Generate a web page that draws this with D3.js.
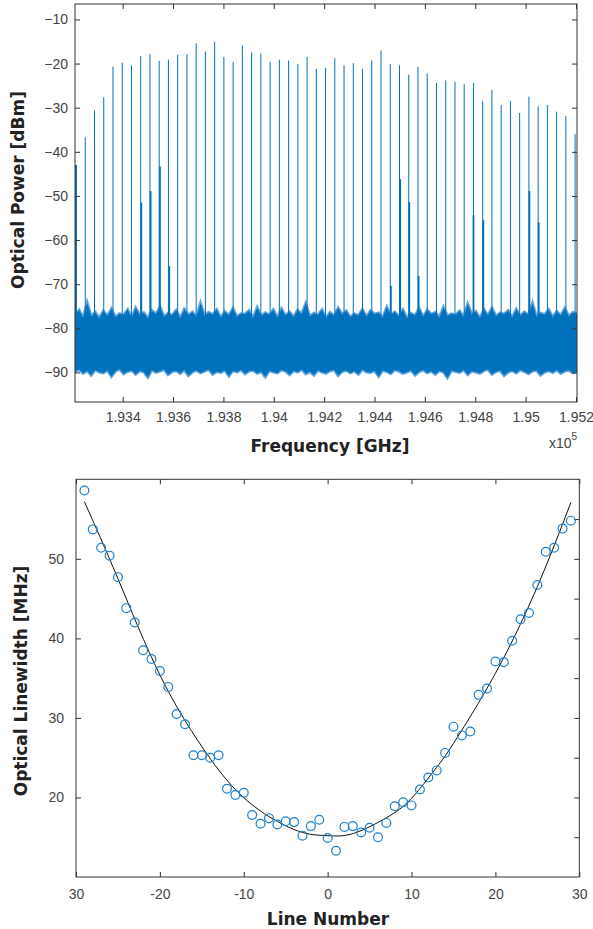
<!DOCTYPE html>
<html><head><meta charset="utf-8">
<script src="https://cdn.jsdelivr.net/npm/d3@7"></script>
<style>body{margin:0;background:#fff} svg{display:block}</style>
</head><body>
<svg id="c" width="593" height="929"></svg>
<script>
// ---------- Top chart data (frequency in GHz, power in dBm) ----------
const combFreq = [193214.7,193251.4,193288.1,193324.8,193361.5,193398.2,193434.9,193471.6,193508.3,193545.0,
  193581.7,193618.4,193655.1,193691.8,193728.5,193765.2,193801.9,193838.6,193875.3,193912.0,
  193948.7,193985.4,194022.1,194058.8,194095.5,194132.2,194168.9,194205.6,194242.3,194279.0,
  194315.7,194352.4,194389.1,194425.8,194462.5,194499.2,194535.9,194572.6,194609.3,194646.0,
  194682.7,194719.4,194756.1,194792.8,194829.5,194866.2,194902.9,194939.6,194976.3,195013.0,
  195049.7,195086.4,195123.1,195159.8,195196.5];
const combPower = [-43.0,-36.7,-30.6,-27.6,-20.7,-19.8,-20.4,-18.3,-17.8,-19.4,
  -19.1,-18.0,-17.8,-15.4,-17.3,-15.1,-18.5,-19.6,-15.9,-17.5,
  -17.7,-19.6,-19.1,-19.3,-20.1,-18.5,-21.2,-21.0,-18.8,-20.4,
  -19.9,-21.2,-19.3,-17.0,-20.1,-20.4,-22.5,-20.7,-22.2,-24.4,
  -23.8,-24.1,-24.7,-24.4,-28.5,-26.0,-29.4,-28.5,-31.2,-27.5,
  -29.7,-29.4,-30.9,-31.9,-36.0];
const sideFreq = [193214.7,193474,193511,193548,193585,194465,194502,194538,194575,194793,194832,195015,195052];
const sidePower = [-43.0,-51.5,-48.9,-43.3,-65.9,-70.4,-46.2,-51.4,-68.1,-54.4,-55.5,-48.9,-56.0];
const noiseTop = [-77.0,-75.9,-77.6,-74.2,-77.3,-76.4,-77.7,-76.1,-77.2,-75.6,
  -77.5,-76.7,-77.0,-75.8,-77.6,-75.4,-77.1,-76.5,-77.7,-76.0,
  -76.8,-75.2,-77.4,-76.6,-77.1,-75.9,-77.7,-75.7,-77.0,-76.3,
  -77.5,-74.3,-77.2,-76.4,-76.9,-75.8,-77.6,-76.2,-77.1,-75.5,
  -77.4,-76.7,-76.8,-76.0,-77.7,-75.3,-77.2,-76.5,-77.0,-75.8,
  -77.6,-75.6,-77.1,-76.3,-77.5,-75.9,-76.8,-74.4,-77.3,-76.6,
  -77.0,-75.8,-77.7,-76.4,-77.2,-75.4,-76.9,-76.1,-77.5,-76.7,
  -77.1,-75.7,-77.4,-76.0,-76.8,-76.5,-77.6,-75.2,-77.0,-76.3,
  -77.3,-75.8,-77.7,-76.6,-77.1,-75.5,-77.4,-75.9,-76.8,-76.4,
  -77.6,-75.3,-77.2,-76.7,-77.0,-76.1,-77.5,-74.5,-76.9,-76.2,
  -77.7,-75.8,-77.1,-75.4,-77.3,-76.5,-76.8,-76.0,-77.6,-75.7,
  -77.2,-76.3,-77.0,-74.3,-77.4,-76.6,-76.9,-75.8,-77.5,-76.2,
  -77.1,-75.5,-77.3,-76.4,-76.8];
const noiseBottom = [-89.8,-89.3,-90.2,-89.6,-90.6,-89.4,-89.9,-90.1,-89.5,-90.9,
  -89.7,-89.2,-90.3,-89.8,-89.5,-90.4,-89.6,-89.9,-91.1,-89.4,
  -90.0,-89.7,-89.3,-90.5,-89.8,-89.6,-90.2,-89.4,-90.7,-89.9,
  -89.5,-90.1,-89.7,-89.3,-90.4,-89.8,-90.0,-89.5,-90.8,-89.6,
  -89.9,-89.4,-90.3,-89.7,-89.5,-90.2,-89.8,-91.0,-89.6,-89.9,
  -90.1,-89.4,-89.7,-90.5,-89.6,-89.9,-89.3,-90.3,-89.8,-90.6,
  -89.5,-89.9,-90.2,-89.6,-89.4,-90.7,-89.8,-89.5,-90.1,-89.7,
  -90.4,-89.3,-89.9,-90.0,-89.6,-90.9,-89.5,-89.8,-90.3,-89.4,
  -89.7,-90.2,-89.9,-89.5,-90.6,-89.8,-89.4,-90.1,-89.7,-90.4,
  -89.6,-89.9,-91.2,-89.5,-89.8,-90.0,-89.4,-90.5,-89.7,-89.9,
  -90.2,-89.6,-89.3,-90.4,-89.8,-89.5,-90.7,-89.9,-89.6,-90.1,
  -89.4,-89.8,-90.3,-89.7,-89.5,-90.6,-89.9,-89.6,-90.0,-89.4,
  -90.2,-89.7,-89.5,-90.1,-89.8];
const freqDomain = [193210.7, 195204];
const powerDomain = [-96.7, -6.5];
const freqTicks = [193400,193600,193800,194000,194200,194400,194600,194800,195000,195200];
const freqTickLabels = ["1.934","1.936","1.938","1.94","1.942","1.944","1.946","1.948","1.95","1.952"];
const powerTicks = [-90,-80,-70,-60,-50,-40,-30,-20,-10];

// ---------- Bottom chart data ----------
const lineNumbers = [-29,-28,-27,-26,-25,-24,-23,-22,-21,-20,-19,-18,-17,-16,-15,-14,-13,-12,-11,-10,
  -9,-8,-7,-6,-5,-4,-3,-2,-1,0,1,2,3,4,5,6,7,8,9,10,11,12,13,14,15,16,17,18,19,20,21,22,23,24,25,26,27,28,29];
const linewidths = [58.6,53.7,51.4,50.4,47.7,43.8,42.0,38.5,37.4,35.9,33.9,30.5,29.2,25.3,25.3,25.0,25.3,21.1,20.3,20.6,
  17.8,16.7,17.4,16.6,17.0,16.9,15.2,16.4,17.2,14.9,13.3,16.3,16.4,15.6,16.2,15.0,16.8,18.9,19.4,19.0,
  21.0,22.5,23.4,25.6,28.9,27.8,28.3,32.9,33.7,37.1,37.0,39.7,42.4,43.2,46.7,50.9,51.4,53.8,54.8];
const fitN = [-29,-25,-20,-15,-11,-7,-3,0,3,7,10,13,15,20,25,29];
const fitV = [57.2,47.5,35.4,26.4,21.0,17.6,15.6,15.2,15.45,17.45,19.9,23.8,26.8,35.6,46.5,57.1];
const lnTicks = [-30,-20,-10,0,10,20,30];
const lnTickLabels = ["30","-20","-10","0","10","20","30"];
const lwTicks = [20,30,40,50];
const lwRightTicks = [15,20,25,30,35,40,45,50,55];

// ---------- Drawing ----------
const svg = d3.select("#c");
const BLUE = "#0072BD";
const TICKFONT = "'Liberation Sans', Arial, sans-serif";
const LABELFONT = "'DejaVu Sans', Verdana, sans-serif";

function styleAxis(g, hideText) {
  g.select(".domain").remove();
  g.selectAll(".tick line").attr("stroke", "#333").attr("stroke-width", 1);
  g.selectAll(".tick text").attr("fill", "#444").style("font-family", TICKFONT).style("font-size", "14px");
  if (hideText) g.selectAll(".tick text").remove();
}

// ===== Top chart =====
const T = {l: 75, r: 577, t: 4, b: 402};
const x1 = d3.scaleLinear().domain(freqDomain).range([T.l, T.r]);
const y1 = d3.scaleLinear().domain(powerDomain).range([T.b, T.t]);
const idx = d3.scaleLinear().domain([0, noiseTop.length - 1]).range(freqDomain);

const gTop = svg.append("g");
gTop.append("defs").append("clipPath").attr("id", "clipTop")
  .append("rect").attr("x", T.l).attr("y", T.t).attr("width", T.r - T.l).attr("height", T.b - T.t);
const plot1 = gTop.append("g").attr("clip-path", "url(#clipTop)");

const noiseArea = d3.area()
  .x((d, i) => x1(idx(i)))
  .y0((d, i) => y1(noiseBottom[i]))
  .y1(d => y1(d))
  .curve(d3.curveLinear);
plot1.append("path").datum(noiseTop).attr("d", noiseArea)
  .attr("fill", "#5fa4da").attr("stroke", "#5fa4da").attr("stroke-width", 3).attr("stroke-linejoin", "miter");
plot1.append("path").datum(noiseTop).attr("d", noiseArea).attr("fill", BLUE);

plot1.selectAll("line.comb").data(combFreq).join("line").attr("class", "comb")
  .attr("x1", d => x1(d)).attr("x2", d => x1(d))
  .attr("y1", y1(-83)).attr("y2", (d, i) => y1(combPower[i]))
  .attr("stroke", BLUE).attr("stroke-width", 1);
plot1.selectAll("line.side").data(sideFreq).join("line").attr("class", "side")
  .attr("x1", d => x1(d)).attr("x2", d => x1(d))
  .attr("y1", y1(-83)).attr("y2", (d, i) => y1(sidePower[i]))
  .attr("stroke", BLUE).attr("stroke-width", 1.8);

gTop.append("g").attr("transform", `translate(0,${T.b})`)
  .call(d3.axisBottom(x1).tickValues(freqTicks).tickFormat((d, i) => freqTickLabels[i]).tickSizeInner(-5).tickSizeOuter(0).tickPadding(10))
  .call(g => styleAxis(g));
gTop.append("g").attr("transform", `translate(0,${T.t})`)
  .call(d3.axisTop(x1).tickValues(freqTicks).tickSizeInner(-5).tickSizeOuter(0))
  .call(g => styleAxis(g, true));
gTop.append("g").attr("transform", `translate(${T.l},0)`)
  .call(d3.axisLeft(y1).tickValues(powerTicks).tickSizeInner(-5).tickSizeOuter(0).tickPadding(7))
  .call(g => styleAxis(g));
gTop.append("g").attr("transform", `translate(${T.r},0)`)
  .call(d3.axisRight(y1).tickValues(powerTicks).tickSizeInner(-5).tickSizeOuter(0))
  .call(g => styleAxis(g, true));
gTop.append("rect").attr("x", T.l).attr("y", T.t).attr("width", T.r - T.l).attr("height", T.b - T.t)
  .attr("fill", "none").attr("stroke", "#333").attr("stroke-width", 1);

gTop.append("text").attr("x", 330).attr("y", 452).attr("text-anchor", "middle")
  .style("font-family", LABELFONT).style("font-weight", "bold").style("font-size", "17px").attr("fill", "#222")
  .text("Frequency [GHz]");
gTop.append("text").attr("transform", "translate(18,190) rotate(-90)").attr("dy", "0.35em").attr("text-anchor", "middle")
  .style("font-family", LABELFONT).style("font-weight", "bold").style("font-size", "17px").attr("fill", "#222")
  .text("Optical Power [dBm]");
const mult = gTop.append("text").attr("x", 549).attr("y", 448).attr("fill", "#444")
  .style("font-family", TICKFONT).style("font-size", "14px");
mult.append("tspan").text("x10");
mult.append("tspan").attr("dy", -8).style("font-size", "10px").text("5");

// ===== Bottom chart =====
const B = {l: 76, r: 579.3, t: 479.3, b: 877};
const x2 = d3.scaleLinear().domain([-30, 30]).range([B.l, B.r]);
const y2 = d3.scaleLinear().domain([10, 60]).range([B.b, B.t]);
const gBot = svg.append("g");

gBot.append("g").attr("transform", `translate(0,${B.b})`)
  .call(d3.axisBottom(x2).tickValues(lnTicks).tickFormat((d, i) => lnTickLabels[i]).tickSizeInner(-5).tickSizeOuter(0).tickPadding(12))
  .call(g => styleAxis(g));
gBot.append("g").attr("transform", `translate(0,${B.t})`)
  .call(d3.axisTop(x2).tickValues(lnTicks).tickSizeInner(-5).tickSizeOuter(0))
  .call(g => styleAxis(g, true));
gBot.append("g").attr("transform", `translate(${B.l},0)`)
  .call(d3.axisLeft(y2).tickValues(lwTicks).tickSizeInner(-5).tickSizeOuter(0).tickPadding(12))
  .call(g => styleAxis(g));
gBot.append("g").attr("transform", `translate(${B.r},0)`)
  .call(d3.axisRight(y2).tickValues(lwRightTicks).tickSizeInner(-5).tickSizeOuter(0))
  .call(g => styleAxis(g, true));
gBot.append("rect").attr("x", B.l).attr("y", B.t).attr("width", B.r - B.l).attr("height", B.b - B.t)
  .attr("fill", "none").attr("stroke", "#333").attr("stroke-width", 1);

const fitLine = d3.line().x((d, i) => x2(fitN[i])).y(d => y2(d)).curve(d3.curveNatural);
gBot.append("path").datum(fitV).attr("d", fitLine).attr("fill", "none").attr("stroke", "#111").attr("stroke-width", 1);

gBot.selectAll("circle.pt").data(lineNumbers).join("circle").attr("class", "pt")
  .attr("cx", d => x2(d)).attr("cy", (d, i) => y2(linewidths[i])).attr("r", 4.4)
  .attr("fill", "none").attr("stroke", "#1a7fcc").attr("stroke-width", 1.2);

gBot.append("text").attr("x", 328).attr("y", 925).attr("text-anchor", "middle")
  .style("font-family", LABELFONT).style("font-weight", "bold").style("font-size", "17px").attr("fill", "#222")
  .text("Line Number");
gBot.append("text").attr("transform", "translate(21,681) rotate(-90)").attr("dy", "0.35em").attr("text-anchor", "middle")
  .style("font-family", LABELFONT).style("font-weight", "bold").style("font-size", "17px").attr("fill", "#222")
  .text("Optical Linewidth [MHz]");
</script>
</body></html>
